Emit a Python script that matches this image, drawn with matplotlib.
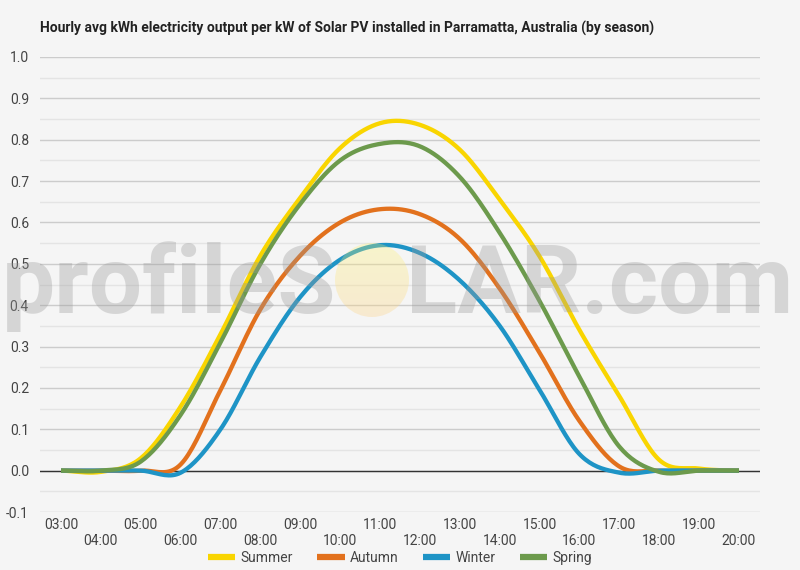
import matplotlib
matplotlib.use("Agg")
import matplotlib.pyplot as plt
import numpy as np
from matplotlib.patches import Circle

hours = list(range(3, 21))
hour_labels = [f"{h:02d}:00" for h in hours]

summer = [0.0, -0.003, 0.03, 0.155, 0.33, 0.52, 0.66, 0.78, 0.84, 0.836,
          0.776, 0.655, 0.518, 0.34, 0.18, 0.026, 0.005, 0.0]
autumn = [0.0, 0.0, 0.0, 0.015, 0.195, 0.39, 0.52, 0.60, 0.632, 0.62,
          0.56, 0.44, 0.285, 0.12, 0.01, 0.0, 0.0, 0.0]
winter = [0.0, 0.0, 0.0, -0.005, 0.10, 0.275, 0.42, 0.51, 0.545, 0.526,
          0.46, 0.35, 0.195, 0.04, -0.005, 0.0, 0.0, 0.0]
spring = [0.0, 0.0, 0.022, 0.135, 0.31, 0.50, 0.645, 0.75, 0.79, 0.784,
          0.71, 0.575, 0.41, 0.227, 0.058, -0.003, 0.0, 0.0]

series = {"Summer": summer, "Autumn": autumn, "Winter": winter, "Spring": spring}
COLORS = {
    "Summer": "#F9D500",
    "Autumn": "#E2711D",
    "Winter": "#1E94C6",
    "Spring": "#6C9A4C",
}

FONT = ["Roboto", "DejaVu Sans"]
plt.rcParams["font.family"] = FONT
BG = "#F5F5F5"


def smooth(x, y, steps=20):
    # Catmull-Rom curve through the hourly points (drawing only)
    x = np.asarray(x, float)
    y = np.asarray(y, float)
    px = np.concatenate([[2 * x[0] - x[1]], x, [2 * x[-1] - x[-2]]])
    py = np.concatenate([[y[0]], y, [y[-1]]])
    xs, ys = [], []
    t = np.linspace(0, 1, steps, endpoint=False)
    for i in range(1, len(px) - 2):
        for arr, out in ((px, xs), (py, ys)):
            p0, p1, p2, p3 = arr[i - 1], arr[i], arr[i + 1], arr[i + 2]
            out.extend(0.5 * ((2 * p1) + (-p0 + p2) * t
                              + (2 * p0 - 5 * p1 + 4 * p2 - p3) * t ** 2
                              + (-p0 + 3 * p1 - 3 * p2 + p3) * t ** 3))
    xs.append(x[-1])
    ys.append(y[-1])
    return np.array(xs), np.array(ys)


fig = plt.figure(figsize=(8, 5.7), dpi=100, facecolor=BG)
ax = fig.add_axes([40 / 800, 1 - 512 / 570, 720 / 800, 455 / 570])
ax.set_facecolor(BG)

for name, vals in series.items():
    sx, sy = smooth(hours, vals)
    ax.plot(sx, sy, color=COLORS[name], lw=3.1, label=name,
            solid_capstyle="butt", zorder=3)

ax.set_xlim(2.473, 20.527)
ax.set_ylim(-0.1, 1.0)
ax.set_yticks(np.round(np.arange(-0.1, 1.01, 0.1), 1))
ax.set_yticklabels([f"{v:.1f}" for v in np.arange(-0.1, 1.01, 0.1)])
ax.set_yticks(np.arange(-0.05, 1.0, 0.1), minor=True)
ax.grid(True, which="major", axis="y", color="#CCCCCC", lw=1)
ax.grid(True, which="minor", axis="y", color="#E4E4E4", lw=1)
ax.axhline(0, color="#333333", lw=1, zorder=2)
ax.set_axisbelow(True)

ax.set_xticks(hours[::2])
ax.set_xticklabels(hour_labels[::2])
ax.set_xticks(hours[1::2], minor=True)
ax.set_xticklabels(hour_labels[1::2], minor=True)
ax.tick_params(axis="x", which="major", length=0, pad=4, labelsize=10, labelcolor="#444444")
ax.tick_params(axis="x", which="minor", length=0, pad=16, labelsize=10, labelcolor="#444444")
ax.tick_params(axis="y", which="both", length=0, pad=8, labelsize=10, labelcolor="#444444")
for s in ax.spines.values():
    s.set_visible(False)

fig.text(40 / 800, 1 - 28 / 570, "Hourly avg kWh electricity output per kW of Solar PV installed in "
         "Parramatta, Australia (by season)", fontsize=10, fontweight="bold",
         color="#222222", ha="left", va="center")

leg = fig.legend(loc="center", bbox_to_anchor=(0.5, 1 - 558 / 570), ncol=4, frameon=False,
                 fontsize=10, handlelength=2.0, handletextpad=0.4, columnspacing=1.7,
                 labelcolor="#444444")
for line in leg.get_lines():
    line.set_linewidth(4.5)

# watermark on top
wm = dict(fontsize=68, fontweight="bold", color="#9A9A9A", alpha=0.34,
          va="baseline", zorder=10)
fig.text(336 / 800, 1 - 313 / 570, "profileS", ha="right", **wm)
fig.text(406 / 800, 1 - 313 / 570, "LAR.com", ha="left", **wm)
sun_ax = fig.add_axes([0, 0, 1, 1], facecolor="none")
sun_ax.set_xlim(0, 800)
sun_ax.set_ylim(570, 0)
sun_ax.axis("off")
grad = np.linspace(0, 1, 100)[:, None] * np.ones((1, 2))
img = sun_ax.imshow(grad, extent=(334, 410, 318, 242), cmap=matplotlib.colors.LinearSegmentedColormap.from_list(
    "sun", ["#FFF46A", "#FFCF7A"]), alpha=0.3, aspect="auto", zorder=11)
img.set_clip_path(Circle((372, 280), 37, transform=sun_ax.transData))
sun_ax.set_xlim(0, 800)
sun_ax.set_ylim(570, 0)

fig.savefig("out.png", dpi=100, facecolor=BG)
